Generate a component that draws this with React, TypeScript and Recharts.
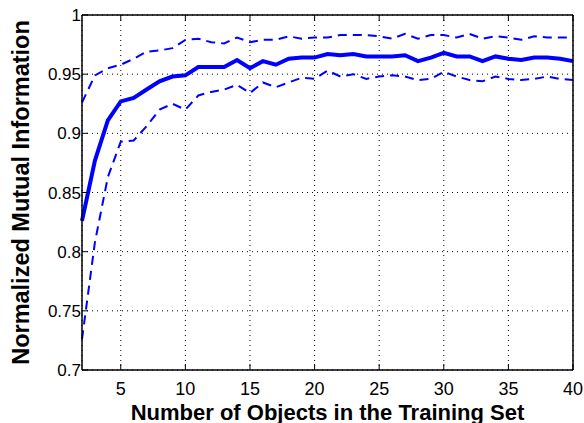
import React from 'react';
import { LineChart, Line, XAxis, YAxis, CartesianGrid, Label } from 'recharts';

const objectCounts = [2, 3, 4, 5, 6, 7, 8, 9, 10, 11, 12, 13, 14, 15, 16, 17, 18, 19, 20, 21, 22, 23, 24, 25, 26, 27, 28, 29, 30, 31, 32, 33, 34, 35, 36, 37, 38, 39, 40];

const meanNmi = [0.826, 0.877, 0.911, 0.927, 0.930, 0.937, 0.944, 0.948, 0.949, 0.956, 0.956, 0.956, 0.962, 0.955, 0.961, 0.958, 0.963, 0.964, 0.964, 0.967, 0.966, 0.967, 0.965, 0.965, 0.965, 0.966, 0.961, 0.964, 0.968, 0.965, 0.965, 0.961, 0.965, 0.963, 0.962, 0.964, 0.964, 0.963, 0.961];

const upperNmi = [0.926, 0.949, 0.955, 0.958, 0.963, 0.969, 0.970, 0.972, 0.979, 0.980, 0.977, 0.976, 0.981, 0.977, 0.979, 0.979, 0.982, 0.980, 0.981, 0.981, 0.983, 0.983, 0.983, 0.982, 0.980, 0.984, 0.980, 0.983, 0.983, 0.981, 0.984, 0.980, 0.982, 0.981, 0.979, 0.982, 0.981, 0.981, 0.981];

const lowerNmi = [0.726, 0.808, 0.863, 0.893, 0.894, 0.906, 0.920, 0.925, 0.920, 0.932, 0.935, 0.937, 0.941, 0.934, 0.943, 0.939, 0.943, 0.947, 0.946, 0.953, 0.948, 0.950, 0.946, 0.948, 0.949, 0.948, 0.945, 0.946, 0.952, 0.948, 0.945, 0.944, 0.948, 0.946, 0.945, 0.946, 0.948, 0.946, 0.945];

const xTicks = [5, 10, 15, 20, 25, 30, 35, 40];
const yTicks = [0.7, 0.75, 0.8, 0.85, 0.9, 0.95, 1];

const data = objectCounts.map((n, i) => ({
  n,
  mean: meanNmi[i],
  upper: upperNmi[i],
  lower: lowerNmi[i],
}));

const font = '"Liberation Sans", Arial, Helvetica, sans-serif';
const axisLine = { stroke: '#000', strokeWidth: 1.5 };
const tickLine = { stroke: '#000', strokeWidth: 1 };
const tickStyle = { fill: '#000', fontSize: 18, fontFamily: font };
const titleStyle = { fill: '#000', fontSize: 22, fontWeight: 'bold', fontFamily: font };
const blank = () => '';

export default function App() {
  return (
    <div style={{ position: 'absolute', left: 0, top: 0, background: '#fff' }}>
      <LineChart width={584} height={423} data={data} margin={{ top: 14, right: 10, left: 0, bottom: 0 }}>
        <CartesianGrid stroke="#000" strokeDasharray="1 4" strokeWidth={1} />
        <XAxis
          dataKey="n"
          type="number"
          domain={[2, 40]}
          ticks={xTicks}
          height={53}
          tickSize={-6}
          tickMargin={18}
          tickLine={tickLine}
          axisLine={axisLine}
          tick={tickStyle}
        >
          <Label value="Number of Objects in the Training Set" position="insideBottom" offset={3} style={titleStyle} />
        </XAxis>
        <XAxis
          xAxisId="top"
          orientation="top"
          dataKey="n"
          type="number"
          domain={[2, 40]}
          ticks={xTicks}
          height={1}
          tickSize={-6}
          tickLine={tickLine}
          axisLine={axisLine}
          tickFormatter={blank}
        />
        <YAxis
          type="number"
          domain={[0.7, 1]}
          ticks={yTicks}
          width={82}
          tickSize={-6}
          tickMargin={7}
          tickLine={tickLine}
          axisLine={axisLine}
          tick={{ ...tickStyle, fontSize: 17 }}
          tickFormatter={(v: number) => String(Number(v.toFixed(2)))}
        >
          <Label
            value="Normalized Mutual Information"
            angle={-90}
            position="insideLeft"
            offset={21}
            style={{ ...titleStyle, fontSize: 23.5, textAnchor: 'middle' }}
          />
        </YAxis>
        <YAxis
          yAxisId="right"
          orientation="right"
          type="number"
          domain={[0.7, 1]}
          ticks={yTicks}
          width={1}
          tickSize={-6}
          tickLine={tickLine}
          axisLine={axisLine}
          tickFormatter={blank}
        />
        <Line type="linear" dataKey="upper" stroke="#0000ff" strokeWidth={2} strokeDasharray="9 6" dot={false} isAnimationActive={false} />
        <Line type="linear" dataKey="lower" stroke="#0000ff" strokeWidth={2} strokeDasharray="9 6" dot={false} isAnimationActive={false} />
        <Line type="linear" dataKey="mean" stroke="#0000ff" strokeWidth={4} dot={false} isAnimationActive={false} />
      </LineChart>
    </div>
  );
}
